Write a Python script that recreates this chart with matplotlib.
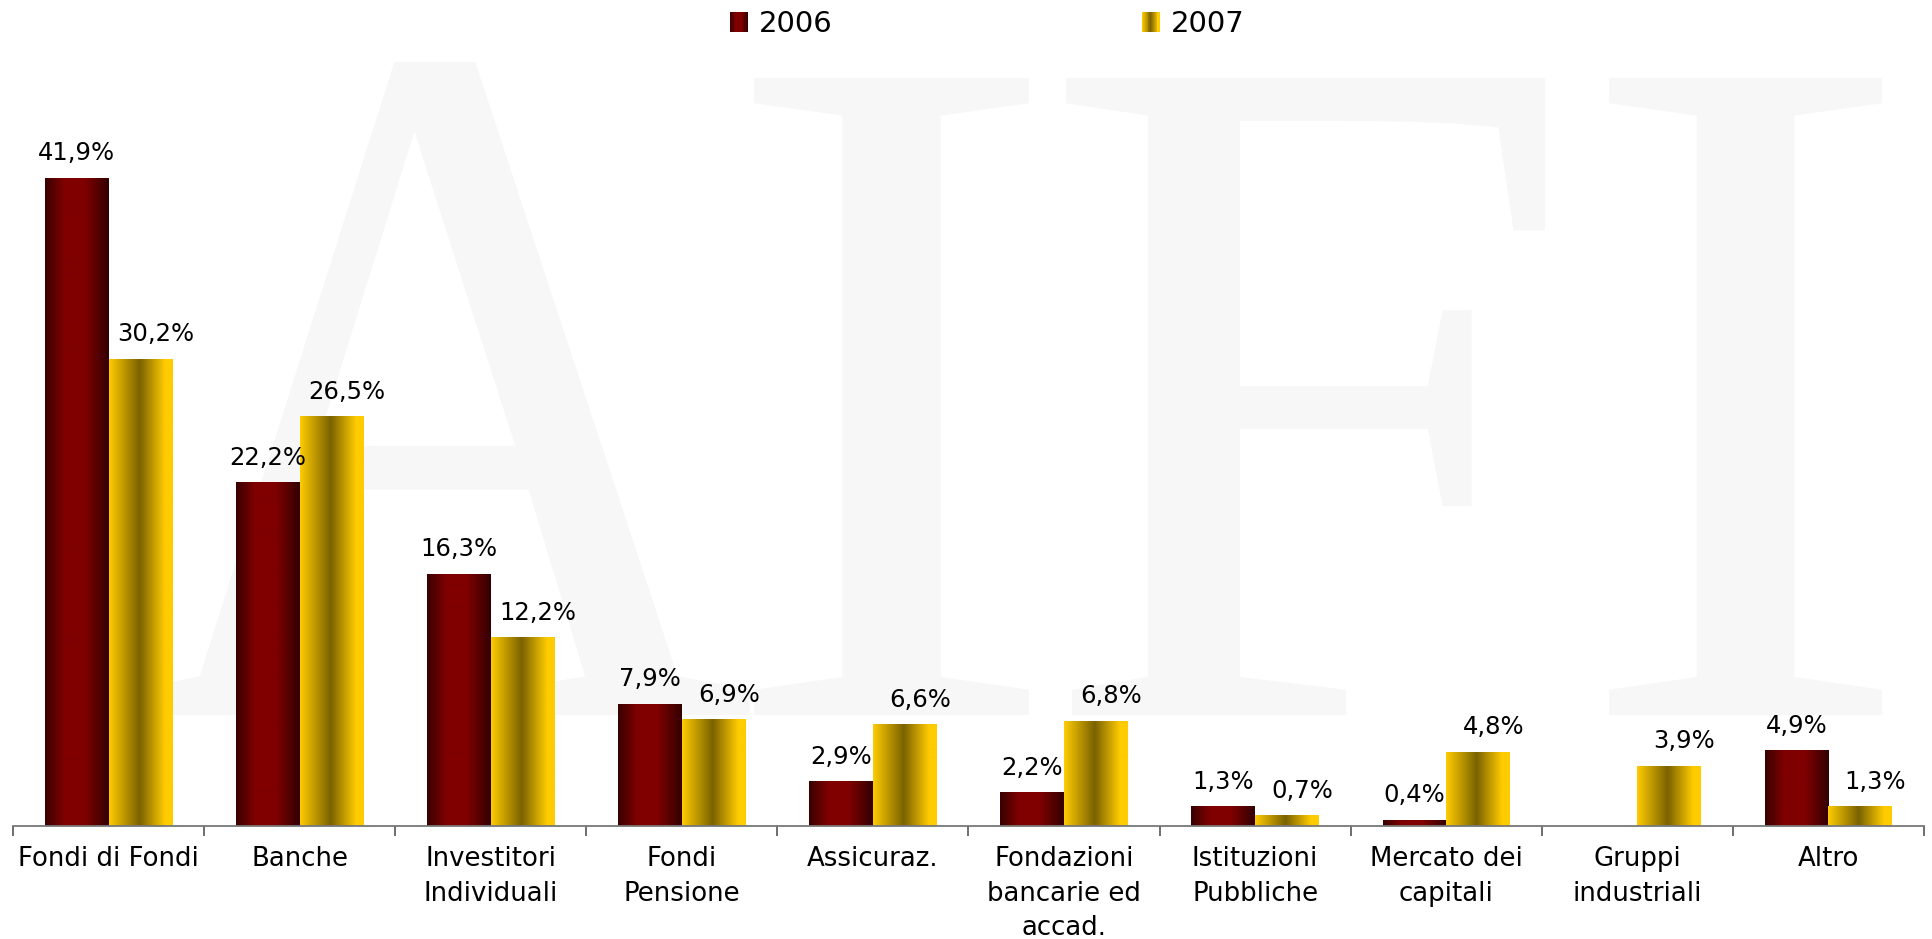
import numpy as np
import matplotlib
matplotlib.use("Agg")
import matplotlib.pyplot as plt
from matplotlib.colors import LinearSegmentedColormap
from matplotlib.legend_handler import HandlerBase
from matplotlib.patches import Rectangle, PathPatch
from matplotlib.textpath import TextPath
from matplotlib.font_manager import FontProperties
from matplotlib.transforms import Affine2D

# data
categories = ["Fondi di Fondi", "Banche", "Investitori\nIndividuali", "Fondi\nPensione",
              "Assicuraz.", "Fondazioni\nbancarie ed\naccad.", "Istituzioni\nPubbliche",
              "Mercato dei\ncapitali", "Gruppi\nindustriali", "Altro"]
years = ["2006", "2007"]
values_2006 = [41.9, 22.2, 16.3, 7.9, 2.9, 2.2, 1.3, 0.4, np.nan, 4.9]
values_2007 = [30.2, 26.5, 12.2, 6.9, 6.6, 6.8, 0.7, 4.8, 3.9, 1.3]

W, H = 1933, 939
plt.rcParams['font.family'] = ['DejaVu Sans']

cmap_2006 = LinearSegmentedColormap.from_list(
    "c2006", [(0, "#380000"), (0.3, "#800000"), (0.62, "#800000"), (1, "#330000")])
cmap_2007 = LinearSegmentedColormap.from_list(
    "c2007", [(0, "#ffcc00"), (0.48, "#7a6200"), (0.88, "#ffcc00"), (1, "#ffcc00")])

fig = plt.figure(figsize=(W / 100, H / 100), dpi=100)
fig.patch.set_facecolor("white")

# AIFI watermark, each letter fitted into its box (pixel coords, y from top)
fp = FontProperties(family="Liberation Serif")


def watermark(ch, left, right, top, bottom):
    tp = TextPath((0, 0), ch, size=100, prop=fp)
    bb = tp.get_extents()
    tr = (Affine2D().translate(-bb.x0, -bb.y0)
          .scale((right - left) / bb.width, (bottom - top) / bb.height)
          .translate(left, H - bottom)
          .scale(1 / W, 1 / H)) + fig.transFigure
    fig.add_artist(PathPatch(tp, transform=tr, facecolor="#f7f7f7",
                             edgecolor="none", zorder=-5))


watermark("A", 135, 750, 62, 715)
watermark("I", 754, 1029, 78, 715)
watermark("F", 1066, 1545, 78, 715)
watermark("I", 1609, 1882, 78, 715)

ax = fig.add_axes([13 / W, 1 - 826 / H, 1911 / W, 766 / H])
ax.patch.set_alpha(0)

x = np.arange(len(categories))
bw = 1 / 3
bars06 = ax.bar(x - bw / 2, values_2006, bw, facecolor="none", edgecolor="none")
bars07 = ax.bar(x + bw / 2, values_2007, bw, facecolor="none", edgecolor="none")


def fill_gradient(bars, cmap):
    grad = np.linspace(0, 1, 256).reshape(1, -1)
    for b in bars:
        h = b.get_height()
        if not np.isfinite(h) or h <= 0:
            continue
        im = ax.imshow(grad, cmap=cmap, aspect="auto", interpolation="bilinear",
                       extent=[b.get_x(), b.get_x() + b.get_width(), 0, h], zorder=2)
        im.set_clip_path(b)


fill_gradient(bars06, cmap_2006)
fill_gradient(bars07, cmap_2007)

# value labels
for bars, vals, dx in [(bars06, values_2006, 0), (bars07, values_2007, 11)]:
    for b, v in zip(bars, vals):
        if np.isnan(v):
            continue
        ax.annotate(f"{v:.1f}%".replace(".", ","),
                    (b.get_x() + b.get_width() / 2, v),
                    xytext=(dx, 12.5), textcoords="offset points",
                    ha="center", va="baseline", fontsize=17.5, color="black")

ax.set_xlim(-0.5, len(categories) - 0.5)
ax.set_ylim(0, 49.5)

for s in ["top", "right", "left"]:
    ax.spines[s].set_visible(False)
ax.spines["bottom"].set_color("#777777")
ax.spines["bottom"].set_linewidth(1.3)
ax.set_yticks([])
ax.set_xticks(x)
ax.set_xticklabels(categories, fontsize=18.7, linespacing=1.42)
ax.tick_params(axis="x", which="major", length=0, pad=14.5)
ax.set_xticks(np.arange(len(categories) + 1) - 0.5, minor=True)
ax.tick_params(axis="x", which="minor", length=7, width=1.2, color="#555555")


class GradientHandler(HandlerBase):
    def __init__(self, cmap):
        super().__init__()
        self.cmap = cmap

    def create_artists(self, legend, orig_handle, xdescent, ydescent,
                       width, height, fontsize, trans):
        n = 20
        out = []
        for i in range(n):
            out.append(Rectangle((-xdescent + i * width / n, -ydescent),
                                 width / n * 1.05, height,
                                 facecolor=self.cmap((i + 0.5) / n),
                                 edgecolor="none", transform=trans))
        return out


h06 = Rectangle((0, 0), 1, 1)
h07 = Rectangle((0, 0), 1, 1)
fig.legend([h06, h07], years, loc="upper left", bbox_to_anchor=(730 / W, 1 - 10 / H),
           ncol=2, frameon=False, fontsize=21, borderpad=0, borderaxespad=0,
           handlelength=0.62, handleheight=0.66, handletextpad=0.38,
           columnspacing=10.6,
           handler_map={h06: GradientHandler(cmap_2006), h07: GradientHandler(cmap_2007)})

fig.savefig("out.png", dpi=100)
